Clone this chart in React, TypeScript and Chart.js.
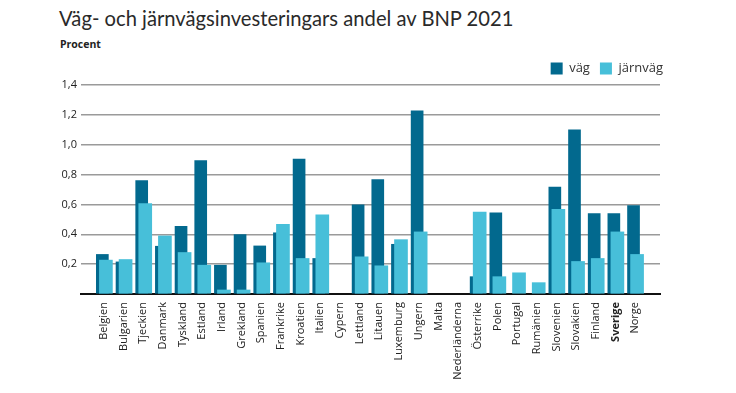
import React, { useEffect, useRef } from "react";
import { Chart, registerables } from "chart.js";

Chart.register(...registerables);

const categories = [
  "Belgien", "Bulgarien", "Tjeckien", "Danmark", "Tyskland", "Estland", "Irland",
  "Grekland", "Spanien", "Frankrike", "Kroatien", "Italien", "Cypern", "Lettland",
  "Litauen", "Luxemburg", "Ungern", "Malta", "Nederländerna", "Österrike", "Polen",
  "Portugal", "Rumänien", "Slovenien", "Slovakien", "Finland", "Sverige", "Norge",
];

const vag: (number | null)[] = [
  0.265, 0.215, 0.76, 0.32, 0.453, 0.893, 0.193,
  0.398, 0.322, 0.41, 0.904, 0.238, null, 0.598,
  0.767, 0.333, 1.227, null, null, 0.116, 0.544,
  null, null, 0.716, 1.1, 0.538, 0.538, 0.593,
];

const jarnvag: (number | null)[] = [
  0.227, 0.231, 0.605, 0.389, 0.278, 0.193, 0.027,
  0.027, 0.209, 0.467, 0.238, 0.531, null, 0.249,
  0.189, 0.364, 0.416, null, null, 0.549, 0.116,
  0.142, 0.076, 0.567, 0.218, 0.238, 0.416, 0.265,
];

const yTickValues = [0, 0.2, 0.4, 0.6, 0.8, 1.0, 1.2, 1.4];

const DARK = "#02698e";
const LIGHT = "#47bfd9";
const FONT = "'Open Sans', sans-serif";

const legendShift = {
  id: "legendShift",
  afterLayout(chart: any) {
    const lg = chart.legend;
    if (lg) {
      lg.left += 13;
      lg.right += 13;
    }
  },
};

export default function App() {
  const ref = useRef<HTMLCanvasElement>(null);

  useEffect(() => {
    const toPoints = (arr: (number | null)[], shift: number) =>
      arr
        .map((v, i) => (v == null ? null : { x: i + shift, y: v }))
        .filter((p) => p !== null) as { x: number; y: number }[];

    const chart = new Chart(ref.current as HTMLCanvasElement, {
      type: "bar",
      data: {
        datasets: [
          {
            label: "väg",
            data: toPoints(vag, -0.08),
            backgroundColor: DARK,
            barThickness: 12,
            grouped: false,
            order: 2,
          } as any,
          {
            label: "järnväg",
            data: toPoints(jarnvag, 0.1),
            backgroundColor: LIGHT,
            barThickness: 13,
            grouped: false,
            order: 1,
          } as any,
        ],
      },
      plugins: [legendShift],
      options: {
        animation: false,
        responsive: false,
        maintainAspectRatio: false,
        layout: { padding: { left: 60, right: 76, top: 52, bottom: 0 } },
        plugins: {
          legend: {
            position: "top",
            align: "end",
            labels: {
              boxWidth: 12,
              boxHeight: 12,
              padding: 10,
              color: "#333",
              font: { family: FONT, size: 13 },
              sort: (a: any, b: any) => a.datasetIndex - b.datasetIndex,
            },
          },
          tooltip: { enabled: false },
        },
        scales: {
          x: {
            type: "linear",
            min: -0.64,
            max: 27.74,
            afterBuildTicks: (scale: any) => {
              scale.ticks = categories.map((_, i) => ({ value: i }));
            },
            afterFit: (scale: any) => {
              scale.height = 99;
            },
            grid: { display: false, drawTicks: false },
            border: { display: true, color: "#111", width: 2 },
            ticks: {
              autoSkip: false,
              minRotation: 90,
              maxRotation: 90,
              padding: 8,
              color: "#222",
              font: (ctx: any) => ({
                family: FONT,
                size: 11,
                weight: ctx.tick && categories[ctx.tick.value] === "Sverige" ? "bold" : "normal",
              }),
              callback: (v: any) => categories[v as number] ?? "",
            },
          },
          y: {
            min: 0,
            max: 1.4,
            afterBuildTicks: (scale: any) => {
              scale.ticks = yTickValues.map((v) => ({ value: v }));
            },
            afterFit: (scale: any) => {
              scale.width = 21;
            },
            grid: { color: "#9a9a9a", lineWidth: 1.5, drawTicks: false },
            border: { display: false },
            ticks: {
              padding: 4,
              color: "#222",
              font: { family: FONT, size: 11 },
              callback: (v: any) => (v === 0 ? "" : Number(v).toFixed(1).replace(".", ",")),
            },
          },
        },
      },
    });
    return () => chart.destroy();
  }, []);

  return (
    <div style={{ position: "fixed", left: 0, top: 0, width: 736, height: 393, background: "#fff" }}>
      <div
        style={{
          position: "absolute",
          left: 59,
          top: 6,
          fontFamily: "Lato, 'Open Sans', sans-serif",
          fontWeight: 400,
          fontSize: 20.2,
          color: "#2a2a2a",
          whiteSpace: "nowrap",
        }}
      >
        Väg- och järnvägsinvesteringars andel av BNP 2021
      </div>
      <div
        style={{
          position: "absolute",
          left: 60,
          top: 37,
          fontFamily: FONT,
          fontWeight: 700,
          fontSize: 10.5,
          color: "#222",
          whiteSpace: "nowrap",
        }}
      >
        Procent
      </div>
      <canvas ref={ref} width={736} height={393} style={{ position: "absolute", left: 0, top: 0 }} />
    </div>
  );
}
